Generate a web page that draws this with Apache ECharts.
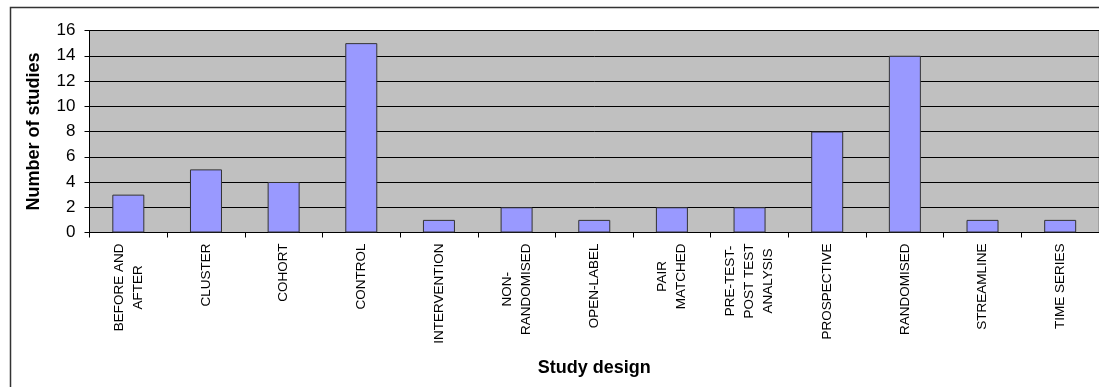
<!DOCTYPE html>
<html>
<head>
<meta charset="utf-8">
<script src="https://cdn.jsdelivr.net/npm/echarts@6/dist/echarts.min.js"></script>
<style>
  html, body { margin: 0; padding: 0; background: #fff; }
  #chart { width: 1099px; height: 387px; }
</style>
</head>
<body>
<div id="chart"></div>
<script>
// Study designs (line breaks follow the wrapped axis labels)
const categories = [
  'BEFORE AND\nAFTER', 'CLUSTER', 'COHORT', 'CONTROL', 'INTERVENTION',
  'NON-\nRANDOMISED', 'OPEN-LABEL', 'PAIR\nMATCHED', 'PRE-TEST-\nPOST TEST\nANALYSIS',
  'PROSPECTIVE', 'RANDOMISED', 'STREAMLINE', 'TIME SERIES'
];
// Number of studies per design
const studyCounts = [3, 5, 4, 15, 1, 2, 1, 2, 2, 8, 14, 1, 1];
// Value axis ticks
const yTicks = [0, 2, 4, 6, 8, 10, 12, 14, 16];

const FONT = '"Liberation Sans", Arial, sans-serif';

const chart = echarts.init(document.getElementById('chart'));
chart.setOption({
  animation: false,
  backgroundColor: '#ffffff',
  graphic: [{
    type: 'rect',
    shape: { x: 10.5, y: 7.5, width: 1200, height: 500 },
    style: { fill: 'none', stroke: '#333333', lineWidth: 1.5 },
    silent: true,
    z: 0
  }],
  grid: {
    left: 89.5, right: -4, top: 30.5, bottom: 154.5,
    show: true,
    backgroundColor: '#C0C0C0',
    borderColor: '#808080',
    borderWidth: 1
  },
  xAxis: {
    type: 'category',
    data: categories,
    boundaryGap: true,
    name: 'Study design',
    nameLocation: 'middle',
    nameGap: 127,
    nameTextStyle: { fontFamily: FONT, fontSize: 18, fontWeight: 'bold', color: '#000' },
    axisLine: { lineStyle: { color: '#000', width: 1 } },
    axisTick: { show: true, length: 5, alignWithLabel: false, lineStyle: { color: '#000' } },
    axisLabel: {
      interval: 0,
      rotate: 90,
      margin: 11,
      color: '#000',
      fontFamily: FONT,
      fontSize: 13.5,
      lineHeight: 19,
      formatter: function (v) {
        return v.split('\n').map(function (l) { return '{c|' + l + '}'; }).join('\n');
      },
      rich: {
        c: { align: 'center', fontFamily: FONT, fontSize: 13.5, lineHeight: 19, color: '#000' }
      }
    }
  },
  yAxis: {
    type: 'value',
    min: yTicks[0],
    max: yTicks[yTicks.length - 1],
    interval: yTicks[1] - yTicks[0],
    name: 'Number of studies',
    nameLocation: 'middle',
    nameGap: 46,
    nameTextStyle: { fontFamily: FONT, fontSize: 18, fontWeight: 'bold', color: '#000' },
    axisLine: { show: true, lineStyle: { color: '#000', width: 1 } },
    axisTick: { show: true, length: 5, lineStyle: { color: '#000' } },
    axisLabel: { margin: 14, color: '#000', fontFamily: FONT, fontSize: 17 },
    splitLine: { show: true, lineStyle: { color: '#000', width: 1 } }
  },
  series: [{
    type: 'bar',
    data: studyCounts,
    barWidth: 32,
    itemStyle: { color: '#9999FF', borderColor: '#333333', borderWidth: 1 },
    z: 3
  }]
});
</script>
</body>
</html>
